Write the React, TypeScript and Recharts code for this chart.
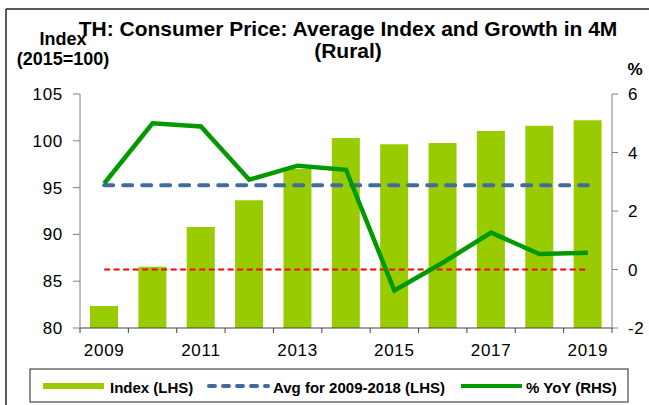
import React from 'react';
import { ComposedChart, Bar, Line, XAxis, YAxis } from 'recharts';

const years = ['2009', '2010', '2011', '2012', '2013', '2014', '2015', '2016', '2017', '2018', '2019'];
const indexValues = [82.35, 86.55, 90.8, 93.64, 96.99, 100.3, 99.62, 99.77, 101.05, 101.6, 102.2];
const yoyValues = [2.94, 5.0, 4.89, 3.07, 3.55, 3.41, -0.72, 0.23, 1.26, 0.53, 0.57];
const avgIndex2009to2018 = 95.25;
const zeroGrowth = 0;
const leftTicks = [80, 85, 90, 95, 100, 105];
const rightTicks = [-2, 0, 2, 4, 6];
const labelYears = ['2009', '2011', '2013', '2015', '2017', '2019'];

const data = years.map((year, i) => ({
  year,
  index: indexValues[i],
  avg: avgIndex2009to2018,
  zero: zeroGrowth,
  yoy: yoyValues[i],
}));

const FONT = '"Liberation Sans", Arial, sans-serif';
const GREEN_BAR = '#99CC00';
const GREEN_LINE = '#009A00';
const BLUE = '#3F6B9F';
const RED = '#FF0000';

const XTick = (props: any) => {
  const { x, y, payload, index } = props;
  const half = payload && payload.offset ? payload.offset : 0;
  const showLabel = labelYears.includes(String(payload.value));
  return (
    <g>
      <line x1={x - half} x2={x - half} y1={y} y2={y + 5} stroke="#404040" strokeWidth={1} />
      {index === years.length - 1 && (
        <line x1={x + half} x2={x + half} y1={y} y2={y + 5} stroke="#404040" strokeWidth={1} />
      )}
      {showLabel && (
        <text x={x} y={y + 28} textAnchor="middle" fontSize={17} fontFamily={FONT} fill="#000" letterSpacing={0.7}>
          {payload.value}
        </text>
      )}
    </g>
  );
};

export default function App() {
  return (
    <div style={{ position: 'absolute', left: 0, top: 0, width: 649, height: 405, background: '#fff' }}>
      <ComposedChart
        width={649}
        height={405}
        data={data}
        margin={{ top: 94, right: 7, bottom: 47, left: 20 }}
      >
        <XAxis
          dataKey="year"
          height={30}
          interval={0}
          tickLine={false}
          tickSize={0}
          tickMargin={0}
          axisLine={{ stroke: '#404040' }}
          tick={<XTick />}
        />
        <YAxis
          yAxisId="left"
          domain={[80, 105]}
          ticks={leftTicks}
          allowDataOverflow
          width={60}
          tickSize={7}
          tickMargin={10}
          axisLine={{ stroke: '#808080' }}
          tickLine={{ stroke: '#808080' }}
          tick={{ fontSize: 17, fill: '#000', fontFamily: FONT, letterSpacing: 0.7 }}
        />
        <YAxis
          yAxisId="right"
          orientation="right"
          domain={[-2, 6]}
          ticks={rightTicks}
          allowDataOverflow
          width={30}
          tickSize={6}
          tickMargin={10}
          axisLine={{ stroke: '#808080' }}
          tickLine={{ stroke: '#808080' }}
          tick={{ fontSize: 17, fill: '#000', fontFamily: FONT, letterSpacing: 0.7 }}
        />
        <Bar yAxisId="left" dataKey="index" fill={GREEN_BAR} barSize={28} isAnimationActive={false} />
        <Line
          yAxisId="right"
          dataKey="zero"
          stroke={RED}
          strokeWidth={2}
          strokeDasharray="6 3.5"
          dot={false}
          activeDot={false}
          isAnimationActive={false}
        />
        <Line
          yAxisId="left"
          dataKey="avg"
          stroke={BLUE}
          strokeWidth={4}
          strokeDasharray="9 10"
          strokeLinecap="round"
          dot={false}
          activeDot={false}
          isAnimationActive={false}
        />
        <Line
          yAxisId="right"
          dataKey="yoy"
          stroke={GREEN_LINE}
          strokeWidth={4.5}
          dot={false}
          activeDot={false}
          isAnimationActive={false}
        />
      </ComposedChart>
      <svg
        width={649}
        height={405}
        style={{ position: 'absolute', left: 0, top: 0, pointerEvents: 'none' }}
      >
        <line x1={6} y1={9} x2={649} y2={9} stroke="#222" strokeWidth={1.5} />
        <line x1={6} y1={9} x2={6} y2={405} stroke="#222" strokeWidth={1.5} />
        <text x={63} y={45} textAnchor="middle" fontSize={18} fontWeight="bold" fontFamily={FONT} fill="#000">
          Index
        </text>
        <text x={63} y={65} textAnchor="middle" fontSize={18} fontWeight="bold" fontFamily={FONT} fill="#000">
          (2015=100)
        </text>
        <text x={348} y={36} textAnchor="middle" fontSize={21} fontWeight="bold" fontFamily={FONT} fill="#000">
          TH: Consumer Price: Average Index and Growth in 4M
        </text>
        <text x={348} y={58} textAnchor="middle" fontSize={21} fontWeight="bold" fontFamily={FONT} fill="#000">
          (Rural)
        </text>
        <text x={635} y={75} textAnchor="middle" fontSize={17} fontWeight="bold" fontFamily={FONT} fill="#000">
          %
        </text>
        <rect x={30} y={369} width={598} height={33} fill="none" stroke="#222" strokeWidth={1} />
        <rect x={43} y={383} width={61} height={6} fill={GREEN_BAR} />
        <text x={110} y={393} fontSize={15} fontWeight="bold" fontFamily={FONT} fill="#000">
          Index (LHS)
        </text>
        <line x1={209} y1={386} x2={268} y2={386} stroke={BLUE} strokeWidth={4} strokeDasharray="6 8" strokeLinecap="round" />
        <text x={273} y={393} fontSize={15} fontWeight="bold" fontFamily={FONT} fill="#000">
          Avg for 2009-2018 (LHS)
        </text>
        <line x1={461} y1={386} x2={522} y2={386} stroke={GREEN_LINE} strokeWidth={4} />
        <text x={526} y={393} fontSize={15} fontWeight="bold" fontFamily={FONT} fill="#000">
          % YoY (RHS)
        </text>
      </svg>
    </div>
  );
}
